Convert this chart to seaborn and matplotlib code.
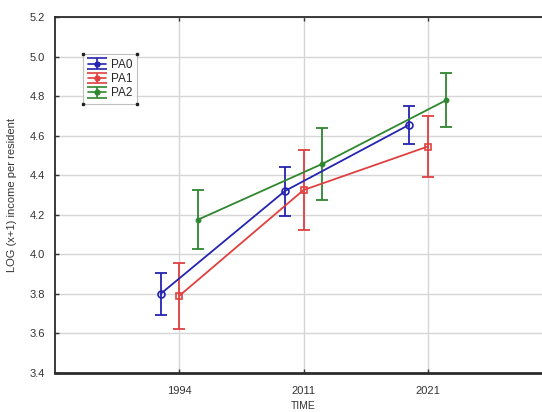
import numpy as np
import pandas as pd
import seaborn as sns
import matplotlib
matplotlib.use("Agg")
import matplotlib.pyplot as plt
from matplotlib.legend_handler import HandlerErrorbar

# Survey years and group means with their error half-widths
years = ["1994", "2011", "2021"]
groups = ["PA0", "PA1", "PA2"]
pa0_mean = [3.80, 4.32, 4.655]
pa0_err = [0.105, 0.124, 0.096]
pa1_mean = [3.79, 4.325, 4.545]
pa1_err = [0.167, 0.203, 0.154]
pa2_mean = [4.175, 4.457, 4.78]
pa2_err = [0.150, 0.180, 0.138]

means = [pa0_mean, pa1_mean, pa2_mean]
errs = [pa0_err, pa1_err, pa2_err]
offsets = [-0.15, 0.0, 0.15]
colors = ["#2424b0", "#e04040", "#2f872f"]
markers = ["o", "s", "o"]
msizes = [5, 5, 3]
mfaces = ["none", "none", "#2f872f"]

rows = []
for g, m, e, off in zip(groups, means, errs, offsets):
    for i, (yr, v, ev) in enumerate(zip(years, m, e)):
        rows.append({"group": g, "year": yr, "pos": i + 1 + off, "value": v, "err": ev})
df = pd.DataFrame(rows)

sns.set_theme(style="whitegrid")
plt.rcParams["font.family"] = ["Liberation Sans", "DejaVu Sans"]

fig = plt.figure(figsize=(5.42, 4.12), dpi=100)
ax = fig.add_axes([55 / 542, 39 / 412, 497 / 542, 356 / 412])

handles = []
for g, c, mk, ms, mf in zip(groups, colors, markers, msizes, mfaces):
    sub = df[df["group"] == g]
    sns.lineplot(data=sub, x="pos", y="value", color=c, marker=mk, markersize=ms,
                 markerfacecolor=mf, markeredgecolor=c, markeredgewidth=1.2,
                 linewidth=1.3, ax=ax, legend=False, zorder=3)
    ax.errorbar(sub["pos"], sub["value"], yerr=sub["err"], fmt="none",
                ecolor=c, elinewidth=1.3, capsize=4, capthick=1.3, zorder=2)
    # legend key: line, dot and error bar with wide caps (nothing drawn on the axes)
    proxy = ax.errorbar([np.nan], [np.nan], yerr=[np.nan], fmt="-o", color=c,
                        markersize=3.5, linewidth=1.2, elinewidth=1.2,
                        capsize=7, capthick=1.2)
    handles.append(proxy)

ax.set_xlim(0, 4)
ax.set_ylim(3.4, 5.2)
ax.set_xticks([1, 2, 3])
ax.set_xticklabels(years)
ax.set_yticks(np.arange(3.4, 5.21, 0.2))
ax.yaxis.set_major_formatter(matplotlib.ticker.FormatStrFormatter("%.1f"))

ax.grid(True, color="#d6d6d6", linewidth=1)
ax.set_facecolor("white")
for side in ["left", "top"]:
    ax.spines[side].set_color("#2b2b2b")
    ax.spines[side].set_linewidth(1.3)
ax.spines["bottom"].set_color("#2b2b2b")
ax.spines["bottom"].set_linewidth(2)
ax.spines["right"].set_visible(False)

ax.tick_params(axis="both", labelsize=8, labelcolor="#333333", colors="#333333",
               direction="in", length=3, width=1)
ax.tick_params(axis="x", pad=9, top=True, bottom=True)
ax.tick_params(axis="y", pad=7, left=True)

ax.set_xlabel("TIME", fontsize=7.5, color="#333333", labelpad=4)
ax.set_ylabel("LOG (x+1) income per resident", fontsize=8, color="#333333")
ax.yaxis.set_label_coords(-0.076, 0.5)

leg = ax.legend(handles, groups, loc="upper left", bbox_to_anchor=(0.056, 0.896),
                borderaxespad=0, fontsize=8.5, frameon=True, fancybox=False,
                edgecolor="#b0b0b0", handlelength=1.6, handletextpad=0.4,
                borderpad=0.4, labelspacing=0.2,
                handler_map={type(handles[0]): HandlerErrorbar(xerr_size=0.45)})
leg.get_frame().set_linewidth(0.8)

# small black squares on the legend box corners
fig.canvas.draw()
bb = leg.get_frame().get_window_extent().transformed(fig.transFigure.inverted())
for cx in (bb.x0, bb.x1):
    for cy in (bb.y0, bb.y1):
        fig.add_artist(plt.Line2D([cx], [cy], marker="s", markersize=1.6,
                                  color="#222222", transform=fig.transFigure))

fig.savefig("out.png", dpi=100)
